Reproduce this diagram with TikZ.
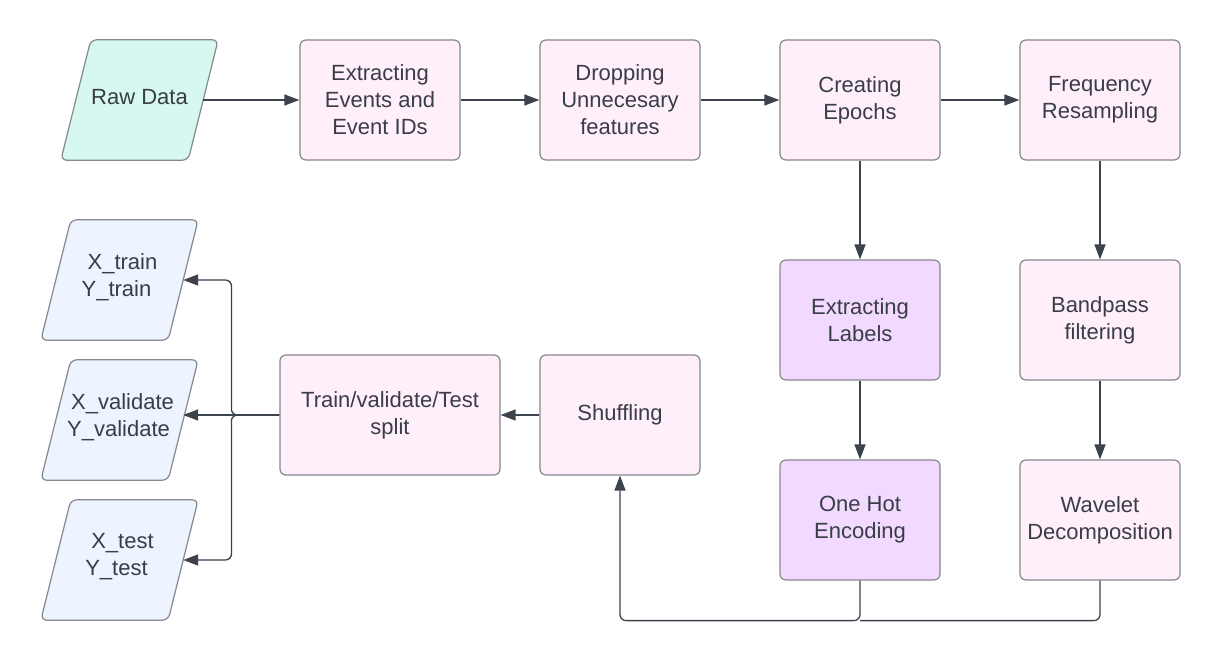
\documentclass[tikz,border=0pt]{standalone}
\usepackage{fontspec}
\setmainfont{Liberation Sans}
\usetikzlibrary{arrows.meta,calc}
\definecolor{pinkf}{HTML}{FFEFFA}
\definecolor{purpf}{HTML}{F2D9FF}
\definecolor{tealf}{HTML}{D6F8F1}
\definecolor{bluef}{HTML}{EDF4FF}
\definecolor{edgec}{HTML}{85888D}
\definecolor{linec}{HTML}{3C434C}
\definecolor{txtc}{HTML}{393D46}
\newcommand{\myparal}[4]{%
  \path (#2) node[minimum width=127pt, minimum height=120pt, inner sep=0pt] (#1) {};
  \draw[draw=edgec, line width=1.2pt, fill=#3, rounded corners=6pt]
    ($(#1.north west)+(15,0)$) -- ($(#1.north east)+(15,0)$) --
    ($(#1.south east)+(-15,0)$) -- ($(#1.south west)+(-15,0)$) -- cycle;
  \node[txt, align=center] at ($(#1)+(0,-3)$) {#4};
}
\begin{document}
\begin{tikzpicture}[x=1pt,y=-1pt,
  txt/.style={text=txtc, font=\fontsize{22}{27}\selectfont},
  box/.style={txt, draw=edgec, line width=1.2pt, rounded corners=6pt,
    minimum width=160pt, minimum height=120pt, align=center, inner sep=0pt},
  pbox/.style={box, fill=pinkf},
  vbox/.style={box, fill=purpf},
  arr/.style={draw=linec, line width=1.3pt, -{Triangle[length=15pt,width=11pt]}},
  ln/.style={draw=linec, line width=1.3pt}]
\useasboundingbox (0,0) rectangle (1220,661);
\fill[white] (0,0) rectangle (1220,661);

\myparal{raw}{139.5,100}{tealf}{Raw Data}
\myparal{xtrain}{119.5,280}{bluef}{\hspace*{6pt}X\_train\\Y\_train\hspace*{6pt}}
\myparal{xval}{119.5,420}{bluef}{\hspace*{6pt}X\_validate\\Y\_validate\hspace*{2pt}}
\myparal{xtest}{119.5,560}{bluef}{\hspace*{6pt}X\_test\\Y\_test\hspace*{6pt}}

\node[pbox] (events) at (380,100) {Extracting\\Events and\\Event IDs};
\node[pbox] (drop) at (620,100) {Dropping\\Unnecesary\\features};
\node[pbox] (epochs) at (860,100) {Creating\\Epochs};
\node[pbox] (freq) at (1100,100) {Frequency\\Resampling};
\node[vbox] (labels) at (860,320) {Extracting\\Labels};
\node[pbox] (band) at (1100,320) {Bandpass\\filtering};
\node[vbox] (onehot) at (860,520) {One Hot\\Encoding};
\node[pbox] (wave) at (1100,520) {Wavelet\\Decomposition};
\node[pbox] (shuffle) at (620,415) {Shuffling};
\node[pbox, minimum width=220pt] (split) at (390,415) {Train/validate/Test\\split};

\draw[arr] (raw.east) -- (events.west);
\draw[arr] (events.east) -- (drop.west);
\draw[arr] (drop.east) -- (epochs.west);
\draw[arr] (epochs.east) -- (freq.west);
\draw[arr] (epochs.south) -- (labels.north);
\draw[arr] (labels.south) -- (onehot.north);
\draw[arr] (freq.south) -- (band.north);
\draw[arr] (band.south) -- (wave.north);
\draw[arr] (shuffle.west) -- (split.east);

\draw[arr, rounded corners=6pt] (onehot.south) -- ++(0,40) -| (shuffle.south);
\draw[ln, rounded corners=6pt] (wave.south) |- ($(onehot.south)+(0,40)$);

\draw[arr, rounded corners=6pt] (split.west) -- ++(-48,0) |- (xtrain.east);
\draw[arr] (split.west) -- (xval.east |- split.west);
\draw[arr, rounded corners=6pt] (split.west) -- ++(-48,0) |- (xtest.east);
\end{tikzpicture}
\end{document}
